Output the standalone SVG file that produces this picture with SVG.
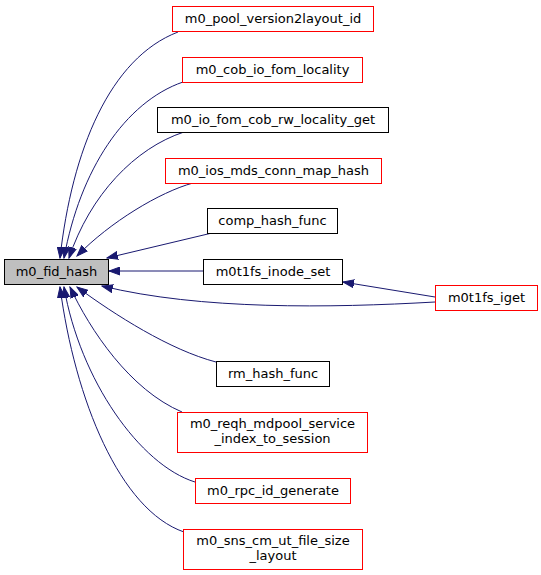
<svg xmlns="http://www.w3.org/2000/svg" width="541" height="575" viewBox="0 0 541 575">
<defs>
<style>
.n rect{fill:#ffffff;stroke-width:1}
.r rect{stroke:#ff0000}
.b rect{stroke:#000000}
.n text{font-family:"DejaVu Sans",sans-serif;font-size:13px;text-anchor:middle;fill:#000000}
#edges path{fill:none;stroke:#191970;stroke-width:1}
</style>
<marker id="ah" markerUnits="userSpaceOnUse" markerWidth="12" markerHeight="9" refX="11" refY="4.5" orient="auto">
<path d="M0,0.5 L11,4.5 L0,8.5 z" fill="#191970" stroke="#191970"/>
</marker>
</defs>
<rect width="541" height="575" fill="#ffffff"/>
<g id="edges">
<path d="M178,32 C110,58 72,150 60,258" marker-end="url(#ah)"/>
<path d="M183,82 C125,102 80,170 64,258" marker-end="url(#ah)"/>
<path d="M184,132 C135,148 90,195 69,258" marker-end="url(#ah)"/>
<path d="M193,183 C160,192 110,222 77,256" marker-end="url(#ah)"/>
<path d="M212,233 L107,258" marker-end="url(#ah)"/>
<path d="M203,271 L109,271" marker-end="url(#ah)"/>
<path d="M435,302 C330,308 200,310 102,286" marker-end="url(#ah)"/>
<path d="M435,297 L343,282" marker-end="url(#ah)"/>
<path d="M216,362 C170,350 115,315 77,287" marker-end="url(#ah)"/>
<path d="M182,412 C130,390 90,330 70,287" marker-end="url(#ah)"/>
<path d="M195,482 C140,465 80,380 64,287" marker-end="url(#ah)"/>
<path d="M184,532 C120,510 75,400 60,287" marker-end="url(#ah)"/>
</g>
<g id="m0_pool_version2layout_id" class="n r"><rect x="172.5" y="6.5" width="201" height="25"/><text x="273" y="23">m0_pool_version2layout_id</text></g>
<g id="m0_cob_io_fom_locality" class="n r"><rect x="182.5" y="57.5" width="180" height="25"/><text x="272.5" y="74">m0_cob_io_fom_locality</text></g>
<g id="m0_io_fom_cob_rw_locality_get" class="n b"><rect x="157.5" y="107.5" width="231" height="25"/><text x="273" y="124">m0_io_fom_cob_rw_locality_get</text></g>
<g id="m0_ios_mds_conn_map_hash" class="n r"><rect x="165.5" y="158.5" width="216" height="25"/><text x="273.5" y="175">m0_ios_mds_conn_map_hash</text></g>
<g id="comp_hash_func" class="n b"><rect x="207.5" y="208.5" width="130" height="25"/><text x="272.5" y="225">comp_hash_func</text></g>
<g id="m0_fid_hash" class="n b"><rect x="4.5" y="259.5" width="104" height="25" style="fill:#bfbfbf"/><text x="56.5" y="276">m0_fid_hash</text></g>
<g id="m0t1fs_inode_set" class="n b"><rect x="203.5" y="259.5" width="139" height="25"/><text x="273" y="276">m0t1fs_inode_set</text></g>
<g id="m0t1fs_iget" class="n r"><rect x="435.5" y="285.5" width="102" height="25"/><text x="486.5" y="302">m0t1fs_iget</text></g>
<g id="rm_hash_func" class="n b"><rect x="216.5" y="361.5" width="113" height="25"/><text x="273" y="378">rm_hash_func</text></g>
<g id="m0_reqh_mdpool_service_index_to_session" class="n r"><rect x="177.5" y="412.5" width="190" height="40"/><text x="272.5" y="428">m0_reqh_mdpool_service</text><text x="272.5" y="443">_index_to_session</text></g>
<g id="m0_rpc_id_generate" class="n r"><rect x="195.5" y="478.5" width="155" height="25"/><text x="273" y="495">m0_rpc_id_generate</text></g>
<g id="m0_sns_cm_ut_file_size_layout" class="n r"><rect x="183.5" y="529.5" width="179" height="40"/><text x="273" y="545">m0_sns_cm_ut_file_size</text><text x="273" y="560">_layout</text></g>
</svg>
